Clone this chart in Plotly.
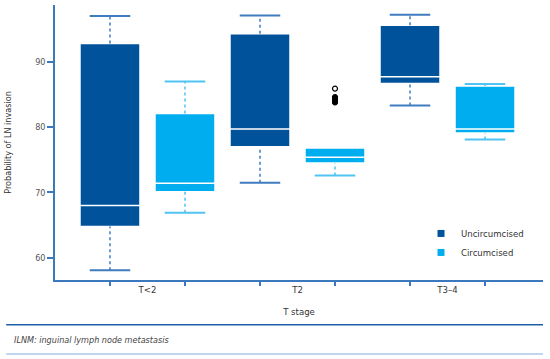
import plotly.graph_objects as go

# ---- data ----
stages = ["T<2", "T2", "T3–4"]
groups = ["Uncircumcised", "Circumcised"]
colors = ["#00529B", "#00AEEF"]
cap_colors = ["#3F7CBF", "#4FC3F2"]

# per group, per stage: lower whisker, Q1, median, Q3, upper whisker
unc_lower = [58.1, 71.5, 83.3]
unc_q1 = [64.8, 77.0, 86.7]
unc_median = [68.0, 79.7, 87.7]
unc_q3 = [92.8, 94.3, 95.6]
unc_upper = [97.0, 97.1, 97.2]

cir_lower = [66.9, 72.6, 78.1]
cir_q1 = [70.1, 74.5, 79.1]
cir_median = [71.4, 75.4, 79.7]
cir_q3 = [82.1, 76.8, 86.3]
cir_upper = [87.0, 76.8, 86.6]

# outliers (Circumcised, T2)
out_stage = ["T2", "T2", "T2", "T2"]
out_vals = [85.9, 84.6, 84.2, 83.8]
out_filled = [False, True, True, True]

y_ticks = [60, 70, 80, 90]

stats = [
    (unc_lower, unc_q1, unc_median, unc_q3, unc_upper),
    (cir_lower, cir_q1, cir_median, cir_q3, cir_upper),
]

def pos(stage_idx, group_idx):
    return stage_idx * 2 + group_idx

fig = go.Figure()
half_cap = 0.27
for g, (lo, q1, med, q3, up) in enumerate(stats):
    xs = [pos(i, g) for i in range(len(stages))]
    fig.add_trace(go.Box(
        x=xs, q1=q1, median=med, q3=q3, lowerfence=q1, upperfence=q3,
        width=0.8, fillcolor=colors[g], line=dict(color="white", width=1.5),
        whiskerwidth=0, showlegend=False, hoverinfo="skip",
    ))
    # dotted whiskers
    wx, wy = [], []
    for i, x in enumerate(xs):
        if up[i] > q3[i]:
            wx += [x, x, None]; wy += [q3[i], up[i], None]
        if lo[i] < q1[i]:
            wx += [x, x, None]; wy += [lo[i], q1[i], None]
    fig.add_trace(go.Scatter(x=wx, y=wy, mode="lines",
                             line=dict(color=cap_colors[g], width=1.5, dash="dot"),
                             showlegend=False, hoverinfo="skip"))
    # caps
    cx, cy = [], []
    for i, x in enumerate(xs):
        if up[i] > q3[i]:
            cx += [x - half_cap, x + half_cap, None]; cy += [up[i], up[i], None]
        if lo[i] < q1[i]:
            cx += [x - half_cap, x + half_cap, None]; cy += [lo[i], lo[i], None]
    fig.add_trace(go.Scatter(x=cx, y=cy, mode="lines",
                             line=dict(color=cap_colors[g], width=2),
                             showlegend=False, hoverinfo="skip"))

# outliers
ox = [pos(stages.index(s), 1) for s in out_stage]
fig.add_trace(go.Scatter(
    x=ox, y=out_vals, mode="markers",
    marker=dict(size=5, color=["black" if f else "white" for f in out_filled],
                line=dict(color="black", width=1.2)),
    showlegend=False, hoverinfo="skip"))

# legend entries
for g in range(2):
    fig.add_trace(go.Scatter(x=[None], y=[None], mode="markers", name=groups[g],
                             marker=dict(symbol="square", size=7, color=colors[g])))

font_family = "Liberation Sans Narrow, DejaVu Sans Condensed, Roboto, Arial"
axis_col = "#3C78BE"
fig.update_layout(
    width=550, height=359,
    margin=dict(l=55, r=7, t=5, b=79, autoexpand=False),
    plot_bgcolor="white", paper_bgcolor="white",
    font=dict(family=font_family, size=9, color="#444"),
    boxgap=0, boxgroupgap=0,
    showlegend=True,
    legend=dict(x=0.75, y=0.222, xanchor="left", yanchor="top",
                font=dict(size=9.5, color="#333"), bgcolor="rgba(0,0,0,0)",
                itemwidth=30, tracegroupgap=0),
    xaxis=dict(
        range=[-0.733, 5.773], showgrid=False, zeroline=False, automargin=False,
        showline=True, linecolor=axis_col, linewidth=1.5,
        tickmode="array", tickvals=[0.5, 2.5, 4.5], ticktext=stages, ticks="",
        tickfont=dict(size=9.5, color="#333"),
        minor=dict(tickvals=[0, 1, 2, 3, 4, 5], ticks="outside", ticklen=4,
                   tickcolor=axis_col, tickwidth=1.5, showgrid=False),
        title=dict(text="T stage", font=dict(size=9.5, color="#333"), standoff=14),
    ),
    yaxis=dict(
        range=[56.6, 98.7], showgrid=False, zeroline=False, automargin=False,
        showline=True, linecolor=axis_col, linewidth=1.5,
        tickvals=y_ticks, ticks="outside", ticklen=6, tickcolor=axis_col, tickwidth=1.5,
        tickfont=dict(size=9, color="#555"),
        title=dict(text="Probability of LN invasion", font=dict(size=9, color="#333"),
                   standoff=22),
    ),
    shapes=[
        dict(type="line", xref="paper", yref="paper", x0=-0.1, x1=1.0,
             y0=-0.163, y1=-0.163, line=dict(color="#1F5FA8", width=1.5)),
        dict(type="line", xref="paper", yref="paper", x0=-0.1, x1=1.0,
             y0=-0.269, y1=-0.269, line=dict(color="#A9C8E8", width=1.5)),
    ],
    annotations=[
        dict(text="<i>ILNM: inguinal lymph node metastasis</i>", xref="paper", yref="paper",
             x=-0.088, y=-0.218, xanchor="left", yanchor="middle", showarrow=False,
             font=dict(size=9, color="#444")),
    ],
)

fig.write_html("out.html", config={"displayModeBar": False},
               post_script="document.body.style.margin='0';document.body.style.padding='0';")
